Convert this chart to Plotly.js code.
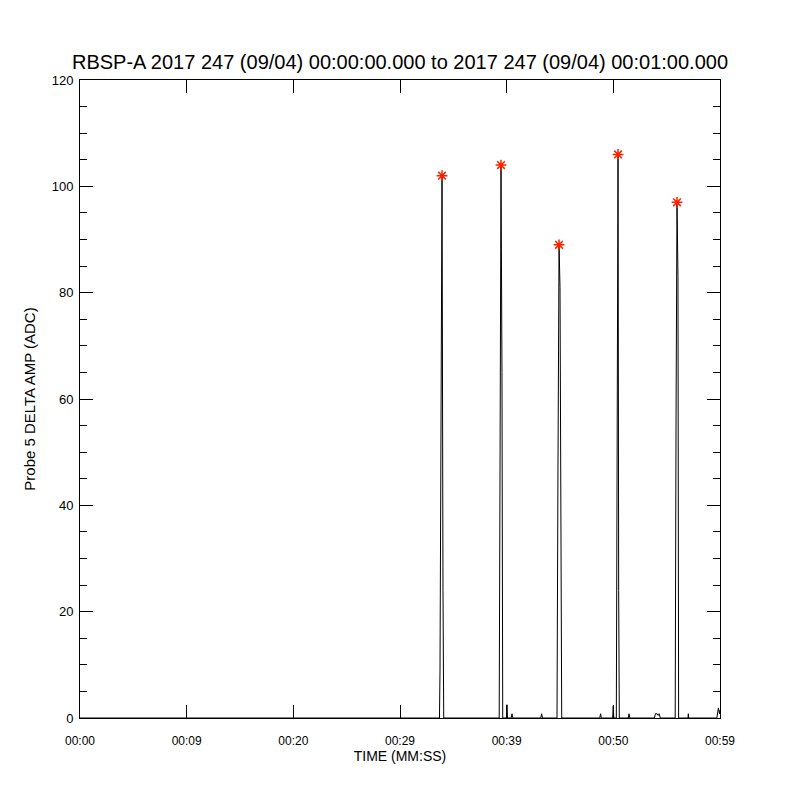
<!DOCTYPE html>
<html>
<head>
<meta charset="utf-8">
<script src="https://cdn.plot.ly/plotly-3.0.1.min.js"></script>
<style>html,body{margin:0;padding:0;background:#fff;}#chart{width:800px;height:800px;}</style>
</head>
<body>
<div id="chart"></div>
<script>
// Time (seconds after 00:00:00) and Probe 5 delta amplitude (ADC)
var timeSec = [0, 33.70, 33.75, 33.84, 33.94, 34.03, 34.10,
  39.30, 39.38, 39.47, 39.56, 39.63,
  39.98, 40.03, 40.08, 40.42, 40.50, 40.58,
  43.20, 43.28, 43.36,
  44.72, 44.81, 44.91, 45.00, 45.09, 45.16,
  48.73, 48.80, 48.88,
  49.94, 49.99, 50.04,
  50.28, 50.31, 50.38, 50.44, 50.50, 50.56,
  51.40, 51.47, 51.54,
  53.85, 53.95, 54.10, 54.20, 54.30, 54.40,
  55.80, 55.88, 55.97, 56.06, 56.12,
  57.00, 57.03, 57.06,
  59.70, 59.85, 59.95, 60.00];
var amp = [0, 0, 9, 60, 102, 24, 0,
  0, 76, 104, 65, 0,
  0, 2.5, 0, 0, 0.8, 0,
  0, 0.8, 0,
  0, 47, 89, 81, 2.3, 0,
  0, 0.8, 0,
  0, 2.3, 0,
  0, 14, 77, 106, 24, 0,
  0, 0.8, 0,
  0, 0.8, 0.8, 0.5, 0.8, 0,
  0, 57, 97, 83, 0,
  0, 0.8, 0,
  0, 1.9, 0.8, 1.5];
var tickVals = [0, 10, 20, 30, 40, 50, 60];
var tickText = ['00:00', '00:09', '00:20', '00:29', '00:39', '00:50', '00:59'];
var titleText = 'RBSP-A 2017 247 (09/04) 00:00:00.000 to 2017 247 (09/04) 00:01:00.000';

// peaks: local maxima above threshold
var peakT = [], peakV = [];
for (var i = 1; i < amp.length - 1; i++) {
  if (amp[i] > 50 && amp[i] >= amp[i-1] && amp[i] >= amp[i+1]) { peakT.push(timeSec[i]); peakV.push(amp[i]); }
}

var font = 'Liberation Sans, Arial, sans-serif';
var traces = [
  {x: timeSec, y: amp, type: 'scatter', mode: 'lines', line: {color: '#000', width: 1}, hoverinfo: 'none'},
  {x: peakT, y: peakV, type: 'scatter', mode: 'markers',
   marker: {symbol: 'asterisk-open', size: 9, color: '#ff2000', line: {color: '#ff2000', width: 1.5}}, hoverinfo: 'none'}
];
var axisCommon = {showgrid: false, zeroline: false, showline: true, linecolor: '#000', linewidth: 1,
  mirror: 'ticks', ticks: 'inside', tickcolor: '#000', tickwidth: 1, ticklen: 13,
  tickfont: {family: font, size: 12, color: '#000'}};
var layout = {
  width: 800, height: 800,
  margin: {l: 80, r: 80, t: 80, b: 82},
  paper_bgcolor: '#fff', plot_bgcolor: '#fff',
  showlegend: false,
  title: {text: titleText, font: {family: font, size: 20, color: '#000'}, x: 0.5, xanchor: 'center', y: 0.9225, yanchor: 'middle'},
  xaxis: Object.assign({}, axisCommon, {range: [0, 60], tickmode: 'array', tickvals: tickVals, ticktext: tickText,
    ticklabelstandoff: 12,
    title: {text: 'TIME (MM:SS)', font: {family: font, size: 14, color: '#000'}, standoff: 2}}),
  yaxis: Object.assign({}, axisCommon, {range: [0, 120], dtick: 20, tick0: 0,
    ticklabelstandoff: 3,
    tickfont: {family: font, size: 13, color: '#000'},
    minor: {dtick: 5, ticklen: 7, ticks: 'inside', tickcolor: '#000', tickwidth: 1, showgrid: false},
    title: {text: 'Probe 5 DELTA AMP (ADC)', font: {family: font, size: 15, color: '#000'}, standoff: 12}})
};
Plotly.newPlot('chart', traces, layout, {staticPlot: true, displayModeBar: false});
</script>
</body>
</html>
